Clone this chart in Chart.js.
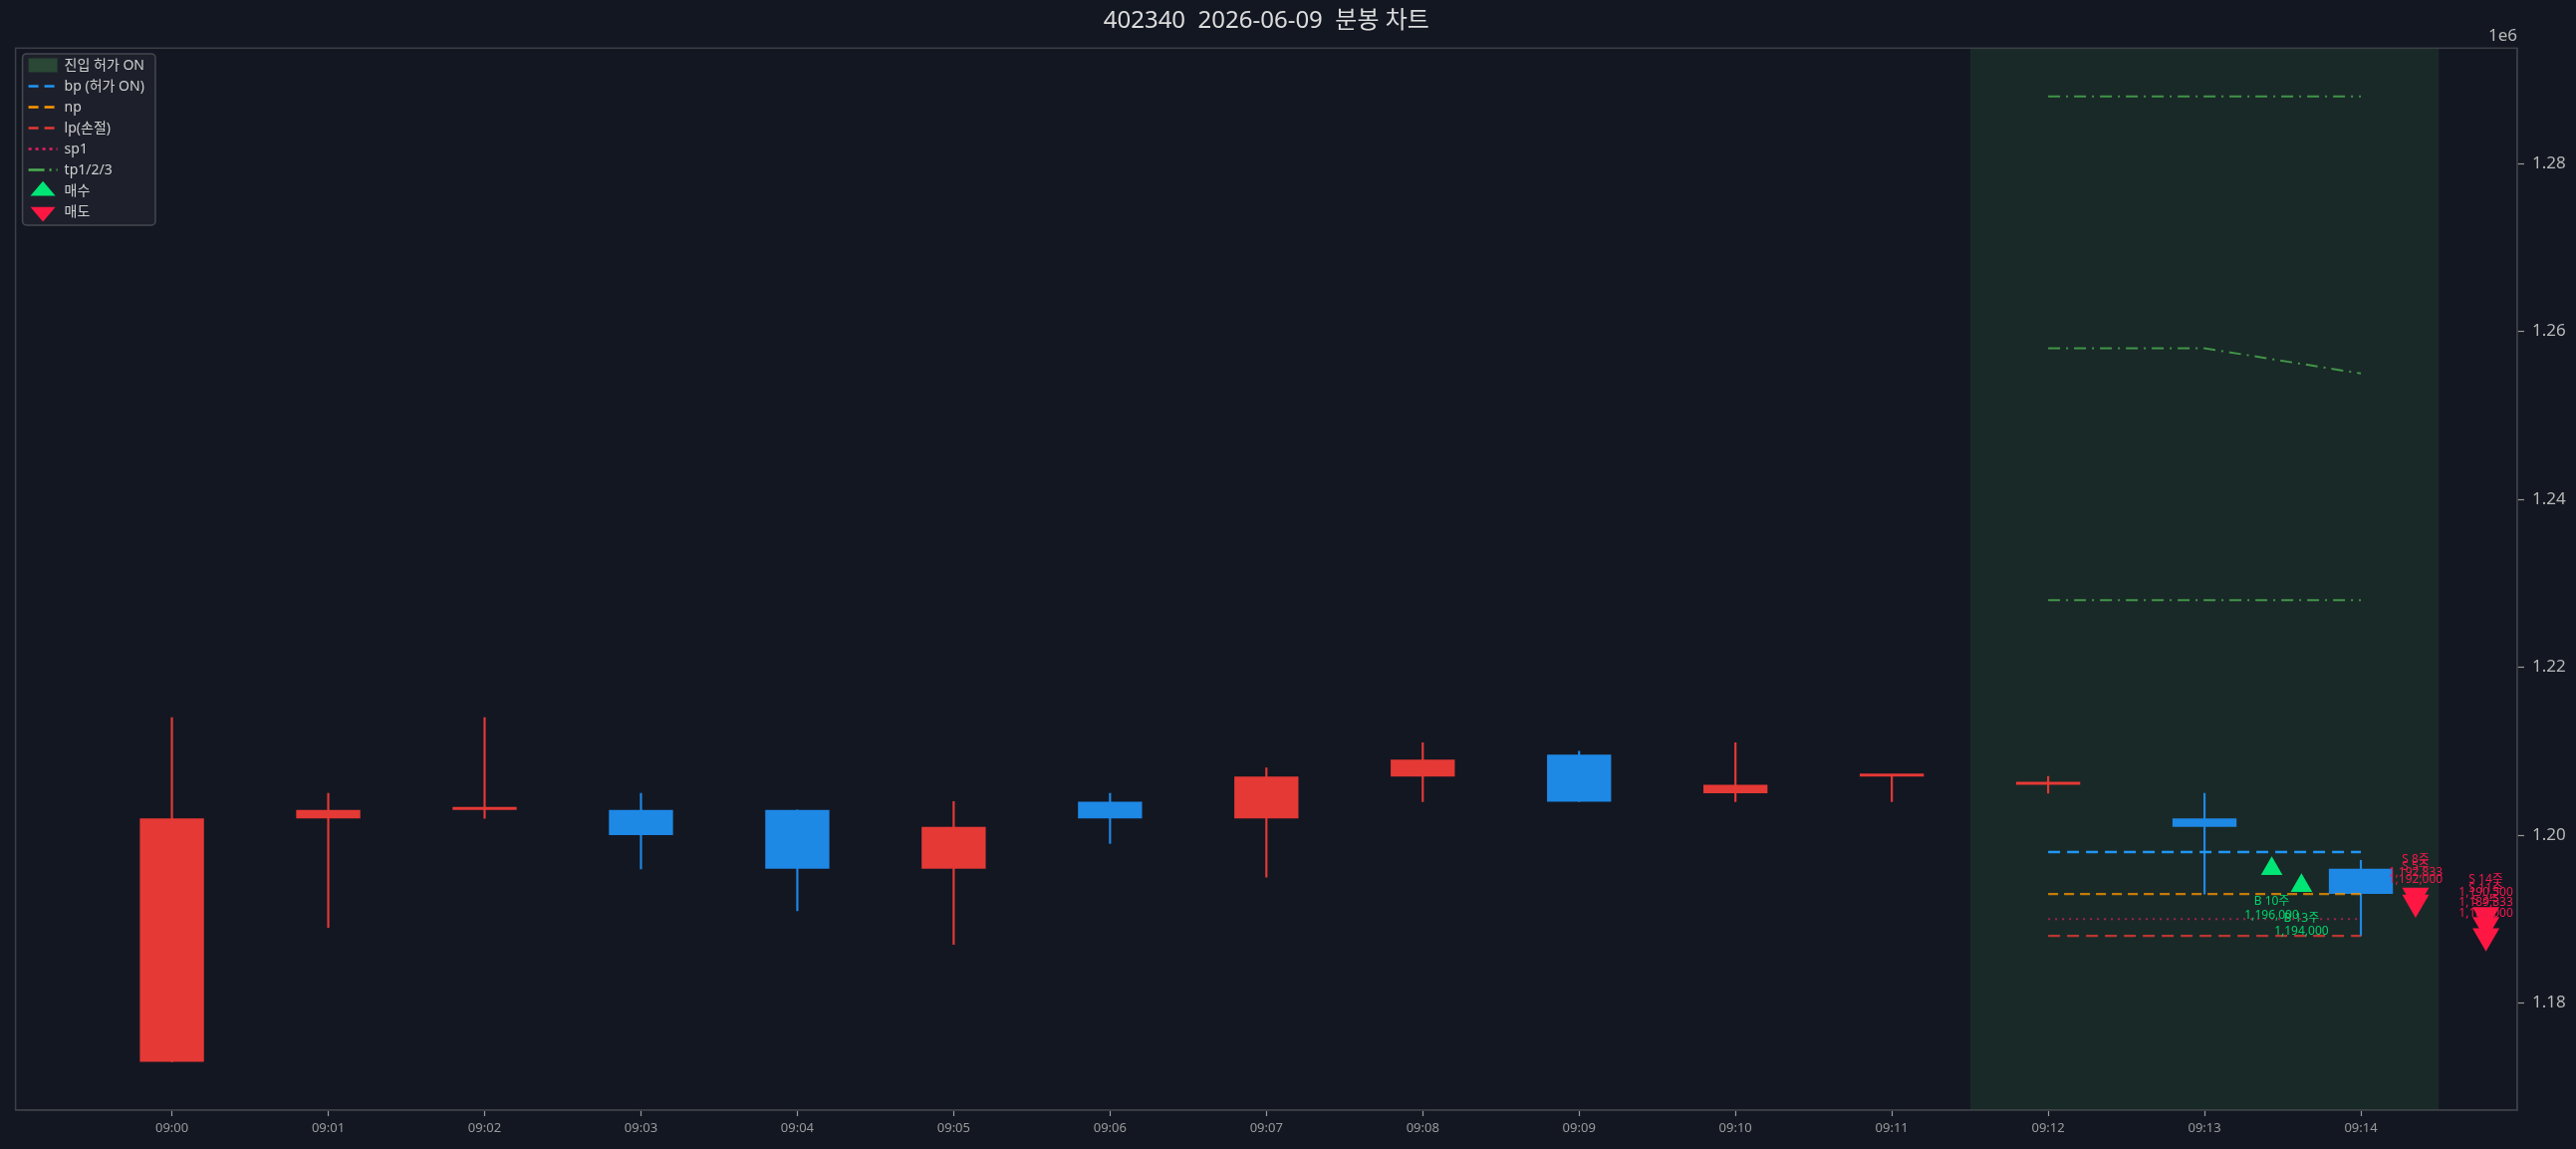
<!DOCTYPE html>
<html>
<head>
<meta charset="utf-8">
<script src="https://cdn.jsdelivr.net/npm/chart.js@4.4.1/dist/chart.umd.min.js"></script>
<style>
  html, body { margin: 0; padding: 0; background: #131722; }
  #wrap { width: 2586px; height: 1153px; }
</style>
</head>
<body>
<div id="wrap"><canvas id="chart" width="2586" height="1153"></canvas></div>
<script>
// 1분봉 데이터 (09:00 ~ 09:14)
const times  = ['09:00','09:01','09:02','09:03','09:04','09:05','09:06','09:07','09:08','09:09','09:10','09:11','09:12','09:13','09:14'];
const opens  = [1173000,1202000,1203000,1203000,1203000,1196000,1204000,1202000,1207000,1209600,1205000,1207000,1206000,1202000,1196000];
const highs  = [1214000,1205000,1214000,1205000,1203000,1204000,1205000,1208000,1211000,1210000,1211000,1207000,1207000,1205000,1197000];
const lows   = [1173000,1189000,1202000,1196000,1191000,1187000,1199000,1195000,1204000,1204000,1204000,1204000,1205000,1193000,1188000];
const closes = [1202000,1203000,1203000,1200000,1196000,1201000,1202000,1207000,1209000,1204000,1206000,1207000,1206000,1201000,1193000];

// 가격 레벨 (09:12 ~ 09:14 구간)
const levelSlots = [12, 13, 14];
const bpLevel  = [1198000, 1198000, 1198000];
const npLevel  = [1193000, 1193000, 1193000];
const lpLevel  = [1188000, 1188000, 1188000];
const sp1Level = [1190000, 1190000, 1190000];
const tp1Level = [1228000, 1228000, 1228000];
const tp2Level = [1258000, 1258000, 1255000];
const tp3Level = [1288000, 1288000, 1288000];

// 진입 허가 구간
const entryWindow = [11.5, 14.5];

// 체결
const buyX     = [13.43, 13.62];
const buyPrice = [1196000, 1194000];
const buyQty   = [10, 13];
const sellX     = [14.35, 14.35, 14.8, 14.8, 14.8];
const sellPrice = [1192833, 1192000, 1190500, 1189333, 1188000];
const sellQty   = [8, 5, 14, 11, 3];

const yTickValues = [1180000, 1200000, 1220000, 1240000, 1260000, 1280000];
const priceMin = 1167250;
const priceMax = 1293750;

const FONT = "'Noto Sans', 'Noto Sans CJK KR', sans-serif";
const UP = '#e53935';
const DOWN = '#1e88e5';
const candleColors = opens.map((o, i) => closes[i] >= o ? UP : DOWN);

const fmt = v => Math.round(v).toLocaleString('en-US');

function levelData(arr) {
    return levelSlots.map((x, k) => ({ x: x, y: arr[k] }));
}

const legendItems = [
    { text: '진입 허가 ON', pointStyle: 'rect', fillStyle: 'rgba(76,175,80,0.28)', strokeStyle: 'rgba(0,0,0,0)', lineWidth: 0, lineDash: [] },
    { text: 'bp (허가 ON)', pointStyle: 'line', fillStyle: '#2196f3', strokeStyle: '#2196f3', lineWidth: 2.5, lineDash: [10, 6] },
    { text: 'np', pointStyle: 'line', fillStyle: '#ff9800', strokeStyle: '#ff9800', lineWidth: 2.5, lineDash: [10, 6] },
    { text: 'lp(손절)', pointStyle: 'line', fillStyle: '#e53935', strokeStyle: '#e53935', lineWidth: 2.5, lineDash: [10, 6] },
    { text: 'sp1', pointStyle: 'line', fillStyle: '#e91e63', strokeStyle: '#e91e63', lineWidth: 2.5, lineDash: [3, 4] },
    { text: 'tp1/2/3', pointStyle: 'line', fillStyle: '#4caf50', strokeStyle: '#4caf50', lineWidth: 2.5, lineDash: [16, 5, 2, 5] },
    { text: '매수', pointStyle: 'triangle', fillStyle: '#00e676', strokeStyle: '#00e676', lineWidth: 0, lineDash: [], rotation: 0 },
    { text: '매도', pointStyle: 'triangle', fillStyle: '#ff1744', strokeStyle: '#ff1744', lineWidth: 0, lineDash: [], rotation: 180 },
];

const legendBox = {
    id: 'legendBox',
    beforeDraw(chart) {
        const lg = chart.legend;
        const ca = chart.chartArea;
        if (!lg) return;
        lg.left = ca.left + 6;
        lg.top = ca.top + 3.3;
        lg.bottom = ca.bottom;
        const pad = 7;
        const col = (lg.columnSizes && lg.columnSizes[0]) || { width: 125, height: 168 };
        const x = lg.left + pad - 6;
        const y = lg.top + 2.3;
        const w = col.width + 17;
        const h = col.height + 4;
        const ctx = chart.ctx;
        ctx.save();
        ctx.fillStyle = 'rgba(30,34,45,0.92)';
        ctx.strokeStyle = '#45484f';
        ctx.lineWidth = 1.5;
        ctx.beginPath();
        ctx.roundRect(x, y, w, h, 4);
        ctx.fill();
        ctx.stroke();
        ctx.restore();
    }
};

const frame = {
    id: 'frame',
    afterDraw(chart) {
        const ca = chart.chartArea;
        const ctx = chart.ctx;
        ctx.save();
        ctx.strokeStyle = '#3c3f46';
        ctx.lineWidth = 1.5;
        ctx.strokeRect(ca.left, ca.top, ca.right - ca.left, ca.bottom - ca.top);
        ctx.fillStyle = '#b8b8b8';
        ctx.font = '17px ' + FONT;
        ctx.textAlign = 'right';
        ctx.textBaseline = 'middle';
        ctx.fillText('1e6', ca.right, ca.top - 12);
        ctx.restore();
    }
};

const tradeLabels = {
    id: 'tradeLabels',
    afterDatasetsDraw(chart) {
        const xs = chart.scales.x;
        const ys = chart.scales.y;
        const ctx = chart.ctx;
        ctx.save();
        ctx.font = '12px ' + FONT;
        ctx.textAlign = 'center';
        ctx.textBaseline = 'middle';
        ctx.fillStyle = '#00d26a';
        buyX.forEach((bx, i) => {
            const px = xs.getPixelForValue(bx);
            const py = ys.getPixelForValue(buyPrice[i]);
            ctx.fillText('B ' + buyQty[i] + '주', px, py + 33);
            ctx.fillText(fmt(buyPrice[i]), px, py + 46.3);
        });
        ctx.fillStyle = '#f0194a';
        sellX.forEach((sx, i) => {
            const px = xs.getPixelForValue(sx);
            const py = ys.getPixelForValue(sellPrice[i]);
            ctx.fillText('S ' + sellQty[i] + '주', px, py - 36);
            ctx.fillText(fmt(sellPrice[i]), px, py - 22.7);
        });
        ctx.restore();
    }
};

Chart.defaults.font.family = FONT;

new Chart(document.getElementById('chart'), {
    type: 'bar',
    data: {
        datasets: [
            {
                type: 'line', label: '진입 허가 ON',
                data: entryWindow.map(x => ({ x: x, y: priceMax })),
                fill: 'start', backgroundColor: 'rgba(76,175,80,0.12)',
                borderWidth: 0, pointRadius: 0, order: 10,
            },
            {
                type: 'bar', label: 'wick',
                data: times.map((t, i) => ({ x: i, y: [lows[i], highs[i]] })),
                backgroundColor: candleColors,
                barThickness: 1.5, maxBarThickness: 1.5, grouped: false, order: 6,
            },
            {
                type: 'bar', label: 'body',
                data: times.map((t, i) => ({ x: i, y: [opens[i], closes[i]] })),
                backgroundColor: candleColors,
                barPercentage: 0.41, categoryPercentage: 1, grouped: false,
                minBarLength: 3, order: 5,
            },
            { type: 'line', label: 'bp', data: levelData(bpLevel), borderColor: '#2196f3', borderWidth: 2.5, borderDash: [12, 7], pointRadius: 0, fill: false, order: 3 },
            { type: 'line', label: 'np', data: levelData(npLevel), borderColor: 'rgba(255,152,0,0.75)', borderWidth: 2.2, borderDash: [10, 6], pointRadius: 0, fill: false, order: 3 },
            { type: 'line', label: 'lp', data: levelData(lpLevel), borderColor: 'rgba(229,57,53,0.8)', borderWidth: 2.2, borderDash: [12, 7], pointRadius: 0, fill: false, order: 3 },
            { type: 'line', label: 'sp1', data: levelData(sp1Level), borderColor: 'rgba(233,30,99,0.65)', borderWidth: 2, borderDash: [2, 5], pointRadius: 0, fill: false, order: 3 },
            { type: 'line', label: 'tp1', data: levelData(tp1Level), borderColor: 'rgba(76,175,80,0.8)', borderWidth: 2, borderDash: [12, 6, 2, 6], pointRadius: 0, fill: false, order: 3 },
            { type: 'line', label: 'tp2', data: levelData(tp2Level), borderColor: 'rgba(76,175,80,0.8)', borderWidth: 2, borderDash: [12, 6, 2, 6], pointRadius: 0, fill: false, order: 3 },
            { type: 'line', label: 'tp3', data: levelData(tp3Level), borderColor: 'rgba(76,175,80,0.8)', borderWidth: 2, borderDash: [12, 6, 2, 6], pointRadius: 0, fill: false, order: 3 },
            {
                type: 'line', label: '매수', showLine: false,
                data: buyX.map((x, i) => ({ x: x, y: buyPrice[i] })),
                pointStyle: 'triangle', pointRadius: 12.5, pointBackgroundColor: '#00e676',
                pointBorderWidth: 0, order: 1,
            },
            {
                type: 'line', label: '매도', showLine: false,
                data: sellX.map((x, i) => ({ x: x, y: sellPrice[i] })),
                pointStyle: 'triangle', pointRotation: 180, pointRadius: 15.6, pointBackgroundColor: '#ff1744',
                pointBorderWidth: 0, order: 1,
            },
        ],
    },
    options: {
        responsive: false,
        animation: false,
        events: [],
        layout: { padding: { left: 13, right: 0, top: 0, bottom: 0 } },
        scales: {
            x: {
                type: 'linear', min: -1, max: 15, offset: false,
                afterBuildTicks: s => { s.ticks = times.map((t, i) => ({ value: i })); },
                afterFit: s => { s.height = 39; },
                ticks: {
                    autoSkip: false, maxRotation: 0, padding: 4,
                    color: '#9a9a9a', font: { size: 13 },
                    callback: v => times[v] ?? '',
                },
                grid: { offset: false, drawOnChartArea: false, drawTicks: true, tickLength: 6, tickColor: '#9a9a9a', tickWidth: 1.2 },
                border: { display: true, color: '#3c3f46', width: 1.5 },
            },
            y: {
                type: 'linear', position: 'right', min: priceMin, max: priceMax,
                afterBuildTicks: s => { s.ticks = yTickValues.map(v => ({ value: v })); },
                afterFit: s => { s.width = 59; },
                ticks: {
                    padding: 8,
                    color: '#b8b8b8', font: { size: 17 },
                    callback: v => (v / 1e6).toFixed(2),
                },
                grid: { offset: false, drawOnChartArea: false, drawTicks: true, tickLength: 7, tickColor: '#9a9a9a', tickWidth: 1.2 },
                border: { display: true, color: '#3c3f46', width: 1.5 },
            },
        },
        plugins: {
            title: {
                display: true,
                fullSize: false,
                text: '402340  2026-06-09  분봉 차트',
                color: '#dcdcdc',
                font: { size: 24, weight: 'normal' },
                padding: { top: 7, bottom: 12.5 },
            },
            tooltip: { enabled: false },
            legend: {
                display: true,
                position: 'chartArea',
                align: 'start',
                labels: {
                    color: '#d0d0d0',
                    font: { size: 14 },
                    usePointStyle: true,
                    pointStyleWidth: 29,
                    boxHeight: 14,
                    padding: 7,
                    generateLabels: () => legendItems.map((it, i) => Object.assign({ hidden: false, datasetIndex: i, fontColor: '#d0d0d0' }, it)),
                },
            },
        },
    },
    plugins: [legendBox, tradeLabels, frame],
});
</script>
</body>
</html>
